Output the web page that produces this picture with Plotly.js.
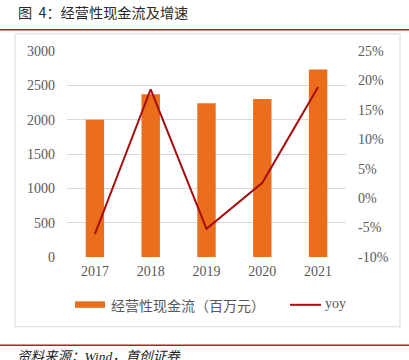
<!DOCTYPE html>
<html>
<head>
<meta charset="utf-8">
<script src="https://cdn.plot.ly/plotly-3.0.1.min.js"></script>
<style>
html,body{margin:0;padding:0;background:#fff;}
#chart{width:409px;height:360px;}
</style>
</head>
<body>
<div id="chart"></div>
<script>
// Data
const years = ['2017', '2018', '2019', '2020', '2021'];
const cashFlow = [2000, 2370, 2240, 2300, 2730];   // 经营性现金流（百万元）
const yoy = [-6.1, 18.5, -5.2, 2.6, 18.9];          // yoy, %
const leftTicks = [0, 500, 1000, 1500, 2000, 2500, 3000];
const rightTicks = [-10, -5, 0, 5, 10, 15, 20, 25];
const rightTickText = rightTicks.map(v => v + '%');
const titleText = '图&nbsp;&nbsp;4：经营性现金流及增速';
const barName = '经营性现金流（百万元）';
const lineName = 'yoy';
const sourceText = '资料来源：Wind，首创证券';

const W = 409, H = 360;
const L = 67, R = 346, T = 50.7, B = 256.7;
const px = x => (x - L) / (R - L);
const py = y => (B - y) / (B - T);

const tickFont = {family: '"Liberation Serif", "DejaVu Serif", serif', size: 14, color: '#595959'};
const cjk = '"Noto Sans CJK SC", "Noto Sans", sans-serif';

const traces = [
  {
    type: 'bar', x: years, y: cashFlow, name: barName,
    marker: {color: '#EA6E1B'}, width: 0.33, showlegend: false,
    hoverinfo: 'skip'
  },
  {
    type: 'scatter', mode: 'lines', x: years, y: yoy, name: lineName, yaxis: 'y2',
    line: {color: '#A80C0C', width: 2}, showlegend: false, hoverinfo: 'skip'
  }
];

const shapes = [
  // red rules
  {type: 'line', xref: 'paper', yref: 'paper', x0: px(0), x1: px(W), y0: py(29.5), y1: py(29.5), line: {color: '#C0171C', width: 1.5}},
  {type: 'line', xref: 'paper', yref: 'paper', x0: px(0), x1: px(W), y0: py(345), y1: py(345), line: {color: '#C0171C', width: 1.5}},
  // chart frame
  {type: 'rect', xref: 'paper', yref: 'paper', x0: px(15), x1: px(400), y0: py(33.5), y1: py(326.5), line: {color: '#D9D9D9', width: 1}},
  // legend swatches
  {type: 'rect', xref: 'paper', yref: 'paper', x0: px(75), x1: px(105), y0: py(301), y1: py(307.5), fillcolor: '#EA6E1B', line: {width: 0}},
  {type: 'line', xref: 'paper', yref: 'paper', x0: px(290), x1: px(321), y0: py(304.5), y1: py(304.5), line: {color: '#A80C0C', width: 2}}
];

const annotations = [
  {xref: 'paper', yref: 'paper', x: px(16), y: py(12), xanchor: 'left', yanchor: 'middle', showarrow: false,
   text: titleText, font: {family: cjk, size: 14.2, color: '#2a2a2a'}},
  {xref: 'paper', yref: 'paper', x: px(109), y: py(304.5), xanchor: 'left', yanchor: 'middle', showarrow: false,
   text: barName, font: {family: cjk, size: 14, color: '#595959'}},
  {xref: 'paper', yref: 'paper', x: px(323), y: py(303), xanchor: 'left', yanchor: 'middle', showarrow: false,
   text: lineName, font: tickFont},
  {xref: 'paper', yref: 'paper', x: px(15), y: py(356), xanchor: 'left', yanchor: 'middle', showarrow: false,
   text: '<i>' + sourceText + '</i>', font: {family: '"Liberation Serif", ' + cjk, size: 13.5, color: '#222'}}
];

const layout = {
  width: W, height: H,
  margin: {l: L, r: W - R, t: T, b: H - B, pad: 0},
  paper_bgcolor: '#fff', plot_bgcolor: '#fff',
  showlegend: false,
  xaxis: {
    type: 'category', tickfont: tickFont, showgrid: false, zeroline: false,
    showline: false, ticks: '', ticklabelstandoff: 4, fixedrange: true
  },
  yaxis: {
    range: [0, 3000], tickvals: leftTicks, ticktext: leftTicks.map(String),
    tickfont: tickFont, showgrid: true, gridcolor: '#D9D9D9', gridwidth: 1,
    zeroline: false, showline: false, ticks: '', ticklabelstandoff: 11, fixedrange: true
  },
  yaxis2: {
    overlaying: 'y', side: 'right', range: [-10, 25],
    tickvals: rightTicks, ticktext: rightTickText, tickfont: tickFont,
    showgrid: false, zeroline: false, showline: false, ticks: '', ticklabelstandoff: 11, fixedrange: true
  },
  shapes: shapes,
  annotations: annotations
};

Plotly.newPlot('chart', traces, layout, {staticPlot: true, displayModeBar: false});
</script>
</body>
</html>
